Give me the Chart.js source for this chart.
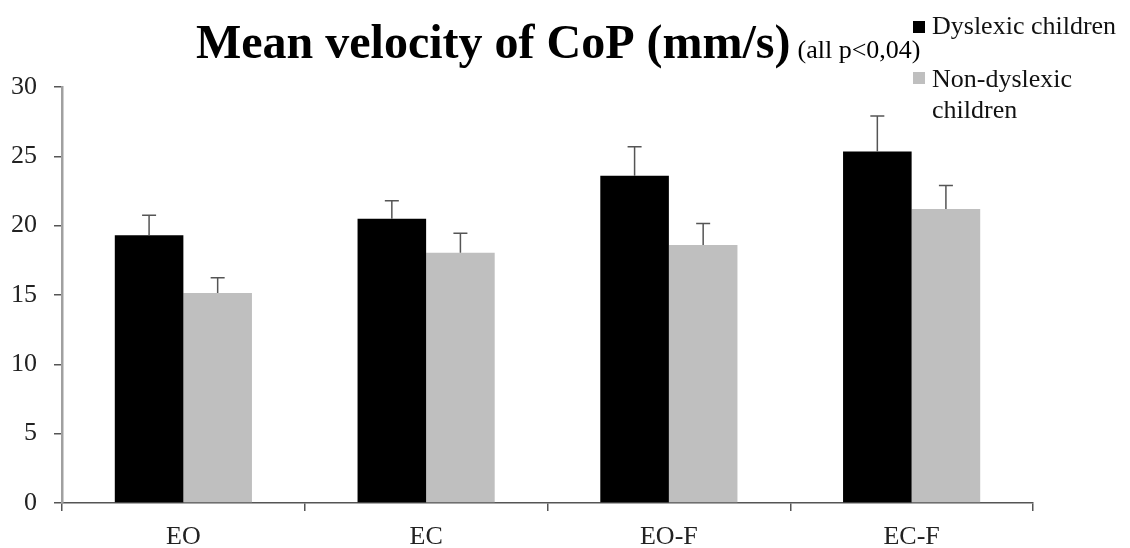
<!DOCTYPE html>
<html>
<head>
<meta charset="utf-8">
<script src="https://cdn.jsdelivr.net/npm/chart.js@4"></script>
<style>
  html, body { margin: 0; padding: 0; background: #fff; }
  #wrap { width: 1130px; height: 548px; }
</style>
</head>
<body>
<div id="wrap"><canvas id="copChart" width="1130" height="548"></canvas></div>
<script>
// conditions on the x axis
const conditions = ['EO', 'EC', 'EO-F', 'EC-F'];

// mean velocity of CoP (mm/s) and error bars (upper side only)
const dyslexicMeans = [19.3, 20.5, 23.6, 25.35];
const dyslexicErrors = [1.45, 1.3, 2.1, 2.55];
const nonDyslexicMeans = [15.15, 18.05, 18.6, 21.2];
const nonDyslexicErrors = [1.1, 1.4, 1.55, 1.7];

const yTicks = [0, 5, 10, 15, 20, 25, 30];

const seriesNames = ['Dyslexic children', 'Non-dyslexic children'];
const seriesColors = ['#000000', '#bfbfbf'];

const serif = '"Liberation Serif", "Times New Roman", serif';

// draws the upward error bars on top of each bar
const errorBarPlugin = {
    id: 'errorBars',
    afterDatasetsDraw(chart) {
        const ctx = chart.ctx;
        const yScale = chart.scales.y;
        const errors = [dyslexicErrors, nonDyslexicErrors];
        ctx.save();
        ctx.strokeStyle = '#555';
        ctx.lineWidth = 1.5;
        chart.data.datasets.forEach((ds, i) => {
            const meta = chart.getDatasetMeta(i);
            meta.data.forEach((bar, j) => {
                const top = yScale.getPixelForValue(ds.data[j] + errors[i][j]);
                ctx.beginPath();
                ctx.moveTo(bar.x, bar.y);
                ctx.lineTo(bar.x, top);
                ctx.moveTo(bar.x - 7, top);
                ctx.lineTo(bar.x + 7, top);
                ctx.stroke();
            });
        });
        ctx.restore();
    }
};

// title with the small p-value note, and the wrapped legend at the top right
const headerPlugin = {
    id: 'header',
    afterDraw(chart) {
        const ctx = chart.ctx;
        ctx.save();
        ctx.fillStyle = '#000';
        ctx.textBaseline = 'alphabetic';
        ctx.textAlign = 'left';

        const mainTitle = 'Mean velocity of CoP (mm/s)';
        ctx.font = 'bold 48px ' + serif;
        ctx.fillText(mainTitle, 196, 58);
        const w = ctx.measureText(mainTitle).width;
        ctx.font = '26px ' + serif;
        ctx.fillText('(all p<0,04)', 196 + w + 7, 58);

        // legend
        ctx.fillStyle = seriesColors[0];
        ctx.fillRect(913, 21, 12, 12);
        ctx.fillStyle = seriesColors[1];
        ctx.fillRect(913, 72, 12, 12);
        ctx.fillStyle = '#111';
        ctx.font = '26px ' + serif;
        ctx.fillText(seriesNames[0], 932, 34);
        ctx.fillText('Non-dyslexic', 932, 87);
        ctx.fillText('children', 932, 118);
        ctx.restore();
    }
};

const ctx = document.getElementById('copChart').getContext('2d');

new Chart(ctx, {
    type: 'bar',
    data: {
        labels: conditions,
        datasets: [
            {
                label: seriesNames[0],
                data: dyslexicMeans,
                backgroundColor: seriesColors[0],
                borderWidth: 0
            },
            {
                label: seriesNames[1],
                data: nonDyslexicMeans,
                backgroundColor: seriesColors[1],
                borderWidth: 0
            }
        ]
    },
    options: {
        responsive: false,
        animation: false,
        categoryPercentage: 0.565,
        barPercentage: 1.0,
        layout: {
            padding: { top: 87, right: 97, left: 0, bottom: 0 }
        },
        scales: {
            x: {
                grid: {
                    display: true,
                    drawOnChartArea: false,
                    offset: true,
                    tickLength: 8,
                    color: '#555',
                    lineWidth: 1.5
                },
                border: { color: '#555', width: 1.5 },
                ticks: {
                    color: '#222',
                    padding: 11,
                    font: { family: serif, size: 26 }
                },
                afterFit(scale) { scale.height = 45; }
            },
            y: {
                min: 0,
                max: 30,
                afterBuildTicks(scale) {
                    scale.ticks = yTicks.map(v => ({ value: v }));
                },
                grid: {
                    display: true,
                    drawOnChartArea: false,
                    tickLength: 8,
                    color: '#555',
                    lineWidth: 1.5
                },
                border: { color: '#a0a0a0', width: 2.5 },
                ticks: {
                    color: '#222',
                    padding: 17,
                    font: { family: serif, size: 26 }
                },
                afterFit(scale) { scale.width = 62; }
            }
        },
        plugins: {
            legend: { display: false },
            title: { display: false },
            tooltip: { enabled: false }
        }
    },
    plugins: [errorBarPlugin, headerPlugin]
});
</script>
</body>
</html>
